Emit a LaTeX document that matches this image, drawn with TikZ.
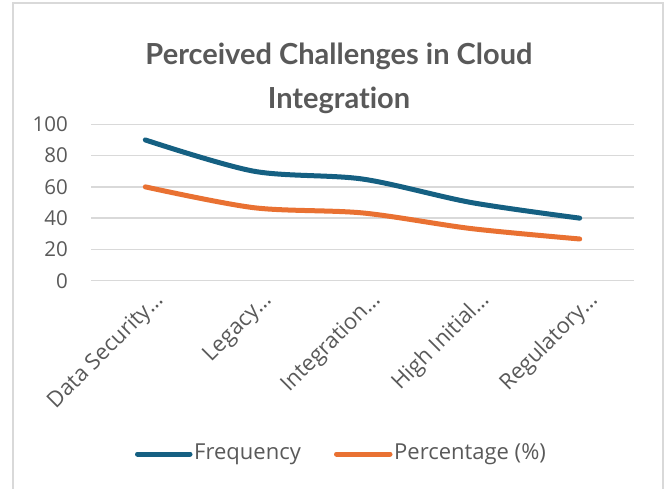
\documentclass[tikz,border=0pt]{standalone}
\usepackage{fontspec}
\setmainfont{Open Sans}
\newfontfamily\titlefont[Ligatures={NoCommon,NoContextual}]{Lato}
\usepackage{tikz}
\usetikzlibrary{positioning}
\definecolor{freqblue}{HTML}{156082}
\definecolor{pctorange}{HTML}{E97132}
\definecolor{txtgray}{HTML}{595959}
\definecolor{gridgray}{HTML}{D9D9D9}
\tikzset{
  charttitle/.style={font=\titlefont\fontsize{29}{44}\selectfont\bfseries,text=txtgray,align=center},
  ticklabel/.style={font=\fontsize{20.5}{24}\selectfont,text=txtgray,anchor=east,inner sep=0pt},
  catlabel/.style={font=\fontsize{22}{26}\selectfont,text=txtgray,anchor=east,rotate=45,inner sep=0pt},
  legendtext/.style={font=\fontsize{22}{26}\selectfont,text=txtgray,anchor=west,inner sep=0pt},
  gridline/.style={draw=gridgray,line width=1.5pt},
  series/.style={line width=5pt,line cap=round,line join=round}
}

\begin{document}
\begin{tikzpicture}[x=1pt,y=1pt]
\useasboundingbox (0,0) rectangle (668,488);
% chart frame
\draw[gridgray,line width=1.5pt] (13,-5) rectangle (663,485);
\node[charttitle] (title) at (339,410) {Perceived Challenges in Cloud\\Integration};
% value axis: 0 at y=207.3, 20 units = 31.28
\foreach \v [count=\i from 0] in {0,20,...,100}{
  \draw[gridline] (91,207.3+\i*31.28) -- (634,207.3+\i*31.28);
  \node[ticklabel] (tick\i) at (68,207.3+\i*31.28) {\v};
}
% categories
\foreach \c [count=\i from 0] in {Data Security…,Legacy…,Integration…,High Initial…,Regulatory…}{
  \node[catlabel] (cat\i) at (160.3+\i*108.6,191) {\c};
}
% series
\draw[series,freqblue] plot[smooth,tension=0.5] coordinates {
  (145.3,207.3+90*1.564) (253.9,207.3+70*1.564) (362.5,207.3+65*1.564)
  (471.1,207.3+50*1.564) (579.7,207.3+40*1.564)};
\draw[series,pctorange] plot[smooth,tension=0.5] coordinates {
  (145.3,207.3+60*1.564) (253.9,207.3+46.67*1.564) (362.5,207.3+43.33*1.564)
  (471.1,207.3+33.33*1.564) (579.7,207.3+26.67*1.564)};
% legend
\node[legendtext] (legfreq) at (194,34) {Frequency};
\node[legendtext] (legpct) at (394,34) {Percentage (\%)};
\coordinate (legfreqstart) at (137.5,34);
\coordinate (legpctstart) at (336.5,34);
\draw[series,freqblue] (legfreqstart) -- ([xshift=-4pt]legfreq.west);
\draw[series,pctorange] (legpctstart) -- ([xshift=-4pt]legpct.west);
\end{tikzpicture}
\end{document}
